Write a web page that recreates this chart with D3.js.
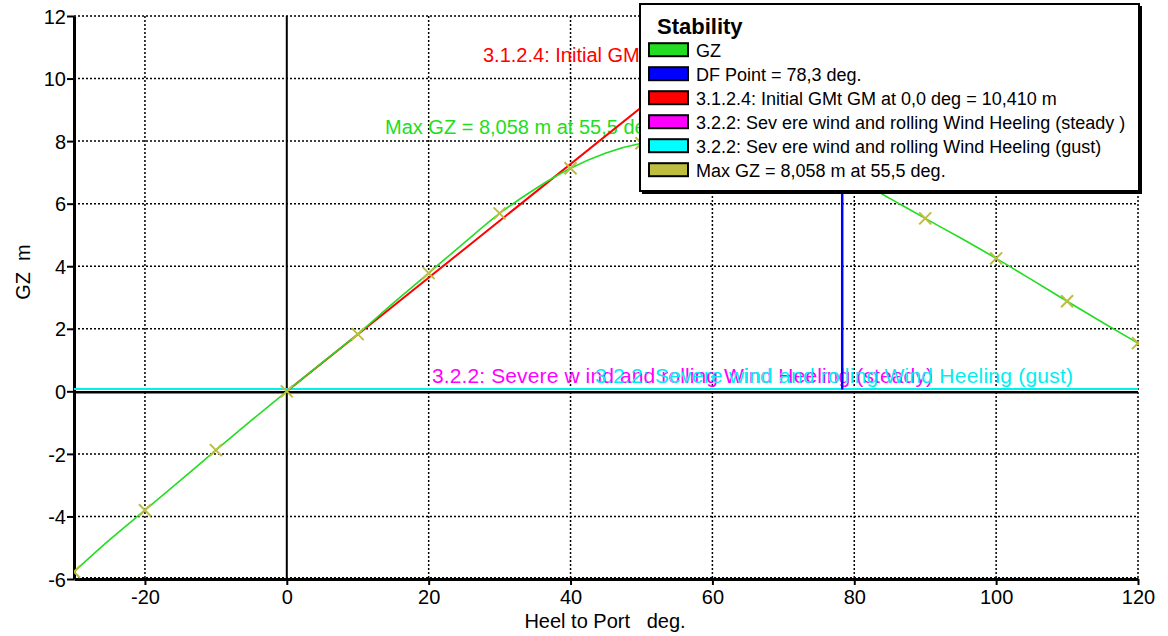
<!DOCTYPE html>
<html><head><meta charset="utf-8">
<script src="https://cdn.jsdelivr.net/npm/d3@7"></script>
<style>body{margin:0;background:#fff}svg{display:block}text{font-family:"Liberation Sans",Arial,sans-serif;white-space:pre}</style>
</head><body><svg id="c" width="1168" height="636"></svg>
<script>
// ---- data ----
const heel = [-30,-25,-20,-15,-10,-5,0,5,10,15,20,25,30,35,40,45,50,55.5,60,65,70,75,80,85,90,95,100,105,110,115,120];
const gz   = [-5.77,-4.75,-3.80,-2.85,-1.88,-0.93,0,0.92,1.83,2.82,3.78,4.75,5.69,6.47,7.13,7.62,7.93,8.058,8.00,7.85,7.60,7.25,6.80,6.17,5.53,4.90,4.25,3.57,2.88,2.20,1.54];
const markerHeel = [-30,-20,-10,0,10,20,30,40,50,60,70,80,90,100,110,120];
const dfPoint = 78.3;
const initialGM = 10.410;
const heelSteady = 0.06, heelGust = 0.06;
const maxGZ = 8.058, maxGZAngle = 55.5;
const xTicks = [-20,0,20,40,60,80,100,120];
const yTicks = [-6,-4,-2,0,2,4,6,8,10,12];
const legendLabels = ["GZ","DF Point = 78,3 deg.","3.1.2.4: Initial GMt GM at 0,0 deg = 10,410 m",
  "3.2.2: Sev ere wind and rolling Wind Heeling (steady )","3.2.2: Sev ere wind and rolling Wind Heeling (gust)",
  "Max GZ = 8,058 m at 55,5 deg."];
const legendColors = ["#22dd22","#0000ff","#ff0000","#ff00ff","#00ffff","#bdbd40"];

const svg = d3.select("#c");
const L=74, R=1138, T=16, B=579;
const x = d3.scaleLinear().domain([-30,120]).range([L,R]);
const y = d3.scaleLinear().domain([-6,12]).range([B,T]);

svg.append("clipPath").attr("id","pc").append("rect").attr("x",L).attr("y",T-1).attr("width",R-L+1).attr("height",B-T+2);

// grid
const g = svg.append("g");
[-20,20,40,60,80,100,120].forEach(v=>g.append("line").attr("x1",x(v)).attr("x2",x(v)).attr("y1",T).attr("y2",B)
  .attr("stroke","#000").attr("stroke-width",1.5).attr("stroke-dasharray","2,2"));
[-4,-2,2,4,6,8,10,12].forEach(v=>g.append("line").attr("x1",L).attr("x2",R).attr("y1",y(v)).attr("y2",y(v))
  .attr("stroke","#000").attr("stroke-width",1.5).attr("stroke-dasharray","2,2"));
g.append("line").attr("x1",L).attr("x2",R).attr("y1",B-1.5).attr("y2",B-1.5).attr("stroke","#000").attr("stroke-width",1).attr("stroke-dasharray","2,2");
// zero lines
g.append("line").attr("x1",x(0)).attr("x2",x(0)).attr("y1",T).attr("y2",B).attr("stroke","#000").attr("stroke-width",2);
g.append("line").attr("x1",L).attr("x2",R).attr("y1",y(0)+0.8).attr("y2",y(0)+0.8).attr("stroke","#000").attr("stroke-width",2.5);

// axes
const fmt = d => String(d);
const xa = svg.append("g").attr("transform",`translate(0,${B})`).call(d3.axisBottom(x).tickValues(xTicks).tickFormat(fmt).tickSize(6).tickSizeOuter(0).tickPadding(3));
const ya = svg.append("g").attr("transform",`translate(${L},0)`).call(d3.axisLeft(y).tickValues(yTicks).tickFormat(fmt).tickSize(7).tickSizeOuter(0).tickPadding(1));
[xa,ya].forEach(a=>{a.select(".domain").attr("stroke","#000").attr("stroke-width",3);
  a.selectAll(".tick line").attr("stroke","#000").attr("stroke-width",2);
  a.selectAll("text").attr("font-size",20).attr("fill","#000").attr("font-family","Liberation Sans, Arial, sans-serif");});
xa.selectAll("text").attr("dy","0.8em");
ya.selectAll("text").attr("dy","0.36em");

const plot = svg.append("g").attr("clip-path","url(#pc)");
// annotations
plot.append("text").attr("x",483).attr("y",y(initialGM)-4).attr("fill","#ff0000").attr("font-size",20).text("3.1.2.4: Initial GMt GM at 0,0 deg = 10,410 m");
plot.append("text").attr("x",385).attr("y",y(maxGZ)-5).attr("fill","#22dd22").attr("font-size",20).text("Max GZ = 8,058 m at 55,5 deg.");
// heeling
plot.append("line").attr("x1",x(-30)).attr("x2",x(120)).attr("y1",y(heelSteady)).attr("y2",y(heelSteady)).attr("stroke","#ff00ff").attr("stroke-width",2).attr("shape-rendering","crispEdges");
plot.append("line").attr("x1",x(-30)).attr("x2",x(120)).attr("y1",y(heelGust)).attr("y2",y(heelGust)).attr("stroke","#00f0f0").attr("stroke-width",2).attr("shape-rendering","crispEdges");
plot.append("text").attr("x",432).attr("y",y(heelSteady)-6).attr("fill","#ff00ff").attr("font-size",21)
  .attr("textLength",501).text("3.2.2: Severe w ind and rolling Wind Heeling (steady)");
plot.append("text").attr("x",595).attr("y",y(heelGust)-6).attr("fill","#00eef0").attr("font-size",21)
  .attr("textLength",478).text("3.2.2: Severe wind and rolling Wind Heeling (gust)");
// red initial GM
plot.append("line").attr("x1",x(0)).attr("y1",y(0)).attr("x2",x(57.3)).attr("y2",y(initialGM)).attr("stroke","#ff0000").attr("stroke-width",2);
// DF
const gzAt = d3.scaleLinear().domain(heel).range(gz);
plot.append("line").attr("x1",x(dfPoint)).attr("x2",x(dfPoint)).attr("y1",y(heelGust)).attr("y2",y(gzAt(dfPoint))).attr("stroke","#0000ff").attr("stroke-width",2.5);
// GZ
plot.append("path").datum(heel.map((h,i)=>[h,gz[i]])).attr("fill","none").attr("stroke","#22dd22").attr("stroke-width",1.6)
  .attr("d",d3.line().x(d=>x(d[0])).y(d=>y(d[1])).curve(d3.curveMonotoneX));
// markers
const s=6;
markerHeel.forEach(h=>{const cx=x(h), cy=y(gzAt(h));
  plot.append("path").attr("d",`M${cx-s},${cy-s}L${cx+s},${cy+s}M${cx-s},${cy+s}L${cx+s},${cy-s}`).attr("stroke","#bdbd40").attr("stroke-width",2);});

// axis titles
svg.append("text").attr("x",605).attr("y",628).attr("text-anchor","middle").attr("font-size",20).text("Heel to Port   deg.");
svg.append("text").attr("transform","translate(30,272) rotate(-90)").attr("text-anchor","middle").attr("font-size",20).text("GZ  m");

// legend
const lg = svg.append("g");
lg.append("rect").attr("x",642).attr("y",6).attr("width",500).attr("height",188).attr("fill","#000");
lg.append("rect").attr("x",640).attr("y",4).attr("width",499).attr("height",187).attr("fill","#fff").attr("stroke","#000").attr("stroke-width",2);
lg.append("text").attr("x",657).attr("y",34).attr("font-size",22).attr("font-weight","bold").text("Stability");
legendLabels.forEach((lab,i)=>{const yy=49.7+i*24;
  lg.append("rect").attr("x",649).attr("y",yy-6.5).attr("width",39).attr("height",13).attr("fill",legendColors[i]).attr("stroke","#000").attr("stroke-width",2);
  lg.append("text").attr("x",696).attr("y",yy+7.5).attr("font-size",18).text(lab);});
</script></body></html>
